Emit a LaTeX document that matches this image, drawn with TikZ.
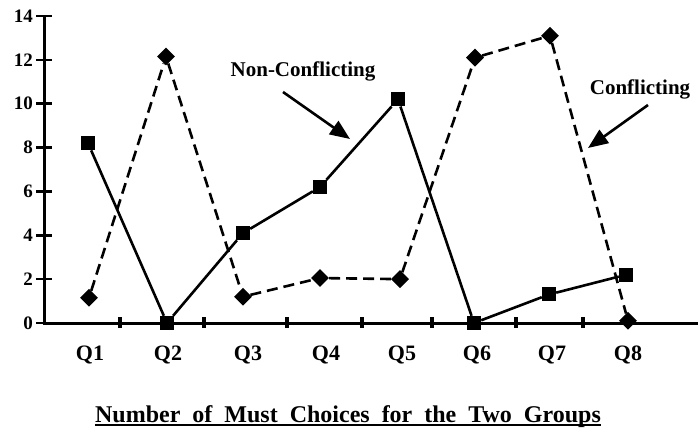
\documentclass[tikz,border=0pt]{standalone}
\usepackage{fontspec}
\setmainfont{Liberation Serif}
\usetikzlibrary{positioning,arrows.meta,shapes.geometric}

\begin{document}
\begin{tikzpicture}[x=1pt,y=1pt,
    sq/.style={fill=black,minimum size=14pt,inner sep=0pt},
    dm/.style={diamond,fill=black,minimum size=18pt,inner sep=0pt},
    nonconf/.style={line width=2.6pt},
    conf/.style={line width=2.6pt,dash pattern=on 11pt off 6pt},
    qlbl/.style={font=\bfseries\fontsize{22}{22}\selectfont,anchor=base,inner sep=0pt},
    num/.style={font=\bfseries\fontsize{19}{19}\selectfont,anchor=east,inner sep=0pt},
    note/.style={font=\bfseries\fontsize{21}{21}\selectfont,inner sep=0pt},
    pointer/.style={line width=2.6pt,-{Triangle[length=20pt,width=16pt]}}]
    \useasboundingbox (0,0) rectangle (698,432);

    % axes
    \coordinate (o) at (44,109);
    \coordinate (ytop) at (44,416);
    \coordinate (xend) at (698,109);
    \draw[line width=3pt] (ytop) -- (o) -- (xend);
    \foreach \t in {120,204,287,362,432,516,583}
        \draw[line width=3.4pt] (\t,104) -- (\t,115);

    \begin{scope}[yshift=109pt,y=21.93pt]
    \foreach \v in {0,2,...,14} {
        \draw[line width=2.6pt] (36,\v) -- (52,\v);
        \node[num] at (33,\v) {\v};
    }

    % non-conflicting group
    \node[sq] (n1) at (88,8.2) {};
    \node[sq] (n2) at (167,0) {};
    \node[sq] (n3) at (243,4.1) {};
    \node[sq] (n4) at (320,6.2) {};
    \node[sq] (n5) at (398,10.2) {};
    \node[sq] (n6) at (474,0) {};
    \node[sq] (n7) at (549,1.3) {};
    \node[sq] (n8) at (626,2.2) {};

    % conflicting group
    \node[dm] (c1) at (89,1.15) {};
    \node[dm] (c2) at (166,12.15) {};
    \node[dm] (c3) at (243,1.2) {};
    \node[dm] (c4) at (320,2.05) {};
    \node[dm] (c5) at (400,2.0) {};
    \node[dm] (c6) at (475,12.1) {};
    \node[dm] (c7) at (550,13.1) {};
    \node[dm] (c8) at (628,0.1) {};
    \end{scope}

    \draw[nonconf] (n1) -- (n2) -- (n3) -- (n4) -- (n5) -- (n6) -- (n7) -- (n8);
    \draw[conf] (c1) -- (c2) -- (c3) -- (c4) -- (c5) -- (c6) -- (c7) -- (c8);

    % question labels
    \node[qlbl] (q1) at (90,72) {Q1};
    \node[qlbl] (q2) at (168,72) {Q2};
    \node[qlbl] (q3) at (248,72) {Q3};
    \node[qlbl] (q4) at (326,72) {Q4};
    \node[qlbl] (q5) at (402,72) {Q5};
    \node[qlbl] (q6) at (477,72) {Q6};
    \node[qlbl] (q7) at (552,72) {Q7};
    \node[qlbl] (q8) at (628,72) {Q8};

    % annotations
    \node[note] (ncl) at (303,361) {Non-Conflicting};
    \coordinate (ncTail) at (283,340);
    \coordinate (ncTip) at (350,293);
    \draw[pointer] (ncTail) -- (ncTip);
    \node[note] (cfl) at (640,343) {Conflicting};
    \coordinate (cfTail) at (648,327);
    \coordinate (cfTip) at (588,284);
    \draw[pointer] (cfTail) -- (cfTip);

    % title
    \node[font=\bfseries\fontsize{24}{24}\selectfont,anchor=base,inner sep=0pt] (ttl) at (348,10)
        {Number\ \ of\ \ Must\ \ Choices\ \ for\ \ the\ \ Two\ \ Groups};
    \draw[line width=1.6pt] ([yshift=-3pt]ttl.base west) -- ([yshift=-3pt]ttl.base east);
\end{tikzpicture}
\end{document}
